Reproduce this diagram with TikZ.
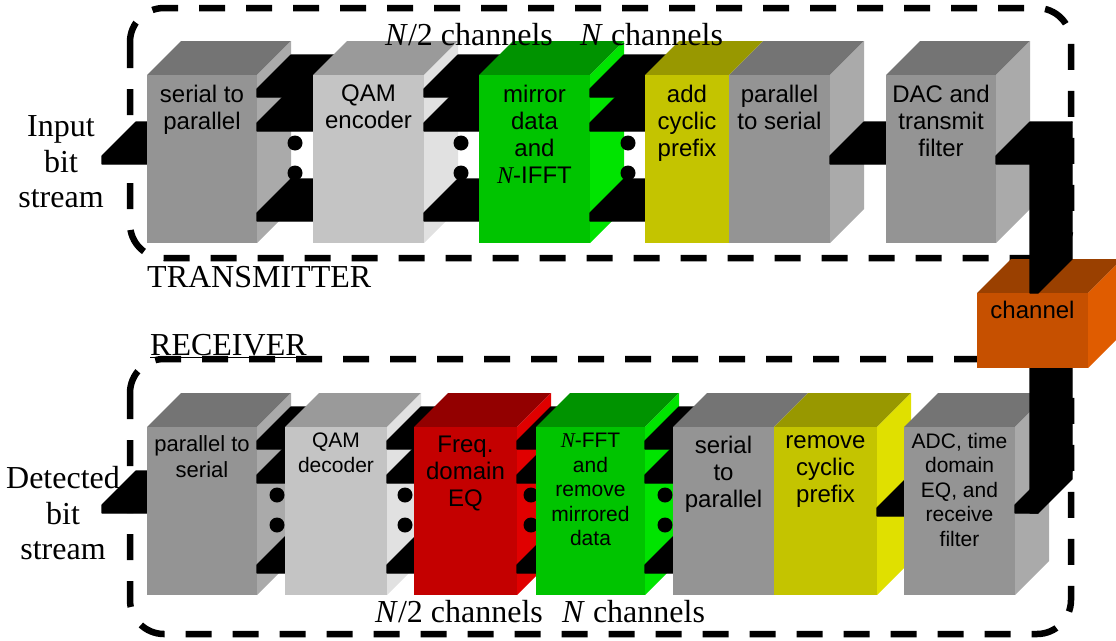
\documentclass[tikz,border=0pt]{standalone}
\usepackage{fontspec}
\setmainfont{Liberation Serif}
\newfontfamily\boxfont{Liberation Sans}
\usetikzlibrary{calc}
\definecolor{ofgrayf}{HTML}{949494}
\definecolor{ofgrayt}{HTML}{747474}
\definecolor{ofgrays}{HTML}{AAAAAA}
\definecolor{ofpalef}{HTML}{C4C4C4}
\definecolor{ofpalet}{HTML}{9A9A9A}
\definecolor{ofpales}{HTML}{E1E1E1}
\definecolor{ofgreenf}{HTML}{00C400}
\definecolor{ofgreent}{HTML}{009300}
\definecolor{ofgreens}{HTML}{00E400}
\definecolor{ofyellowf}{HTML}{C4C400}
\definecolor{ofyellowt}{HTML}{989800}
\definecolor{ofyellows}{HTML}{E0E000}
\definecolor{ofredf}{HTML}{C40000}
\definecolor{ofredt}{HTML}{930000}
\definecolor{ofreds}{HTML}{E00000}
\definecolor{oforangef}{HTML}{C65000}
\definecolor{oforanget}{HTML}{9A4000}
\definecolor{oforanges}{HTML}{E05C00}

% depth of the oblique view
\def\ofs{34}
% front, top and side faces of a block, then its text
\newcommand{\blkface}[6]{%
  \fill[#3] (#1.north west) -- ++(\ofs,-\ofs) -- ($(#1.north east)+(\ofs,-\ofs)$) -- (#1.north east) -- cycle;
  \fill[#4] (#1.north east) -- ++(\ofs,-\ofs) -- ($(#1.south east)+(\ofs,-\ofs)$) -- (#1.south east) -- cycle;
  \fill[#2] (#1.north west) rectangle (#1.south east);
  \node[#5] (#1t) at (#1.north) {#6};}
% flat bus from a start point into block #2, #3 below its top
\newcommand{\busbar}[3]{%
  \filldraw[bus] ($(#1)+(0,8)$) -- (#1) -- ++(\ofs,-\ofs) -- ($(#2.north west)+(\ofs,#3-\ofs)$) -- ++(0,\ofs+8) -- cycle;}
% parallel buses and dots between two blocks
\newcommand{\buslinks}[3]{%
  \foreach \d in {14,48,138}{%
    \coordinate (bs) at ($(#1.north east)+(0,\d)$);
    \busbar{bs}{#2}{\d}}
  \foreach \d in {68,98}{\fill ($(#2.north west)+(#3,\d)$) circle (7.5pt);}}

\begin{document}
\begin{tikzpicture}[x=1pt,y=-1pt,
  blk/.style={anchor=north west,minimum height=168pt,inner sep=0pt,outer sep=0pt},
  bus/.style={fill=black,draw=black,line width=1.2pt,line join=round},
  dashframe/.style={line width=6.5pt,dash pattern=on 26pt off 21pt,rounded corners=34pt},
  lbl/.style={font=\fontsize{32}{35.5}\selectfont,align=center,inner sep=0pt},
  txbig/.style={font=\boxfont\fontsize{24}{27}\selectfont,align=center,inner sep=0pt,anchor=north,
    yshift=-9.5pt,execute at begin node={\rule{0pt}{17.3pt}}},
  rxbig/.style={txbig,yshift=1pt},
  rxsmall/.style={font=\boxfont\fontsize{21}{24.5}\selectfont,align=center,inner sep=0pt,anchor=north,
    yshift=-6pt,execute at begin node={\rule{0pt}{15.1pt}}}]
\useasboundingbox (0,0) rectangle (1116,640);

% block front faces
\node[blk,minimum width=110pt] (s2p) at (147,75) {};
\node[blk,minimum width=111pt] (qamenc) at (313,75) {};
\node[blk,minimum width=111pt] (ifft) at (479,75) {};
\node[blk,minimum width=84pt] (addcp) at (645,75) {};
\node[blk,minimum width=101pt] (p2s) at (729,75) {};
\node[blk,minimum width=110pt] (dac) at (886,75) {};
\node[blk,minimum width=111pt,minimum height=75pt] (chan) at (977,293) {};
\node[blk,minimum width=110pt] (rxp2s) at (147,427) {};
\node[blk,minimum width=102pt] (qamdec) at (285,427) {};
\node[blk,minimum width=103pt] (feq) at (414,427) {};
\node[blk,minimum width=109pt] (fft) at (536,427) {};
\node[blk,minimum width=101pt] (rxs2p) at (673,427) {};
\node[blk,minimum width=103pt] (rmcp) at (774,427) {};
\node[blk,minimum width=111pt] (adc) at (904,427) {};

% dashed frames
\draw[dashframe] (130,8) rectangle (1071,258);
\draw[dashframe] (130,359) rectangle (1071,634);

% transmitter
\coordinate (inb) at ($(s2p.north west)+(-45,81)$);
\busbar{inb}{s2p}{81}
\blkface{s2p}{ofgrayf}{ofgrayt}{ofgrays}{txbig}{serial to\\parallel}
\buslinks{s2p}{qamenc}{-18}
\blkface{qamenc}{ofpalef}{ofpalet}{ofpales}{txbig}{QAM\\encoder}
\buslinks{qamenc}{ifft}{-18}
\blkface{ifft}{ofgreenf}{ofgreent}{ofgreens}{txbig}{mirror\\data\\and\\{\rmfamily\itshape N}-IFFT}
\buslinks{ifft}{addcp}{-17}
\blkface{addcp}{ofyellowf}{ofyellowt}{ofyellows}{txbig}{add\\cyclic\\prefix}
\blkface{p2s}{ofgrayf}{ofgrayt}{ofgrays}{txbig}{parallel\\to serial}
\coordinate (bs) at ($(p2s.north east)+(0,81)$);
\busbar{bs}{dac}{81}
\blkface{dac}{ofgrayf}{ofgrayt}{ofgrays}{txbig}{DAC and\\transmit\\filter}

% receiver
\coordinate (outb) at ($(rxp2s.north west)+(-45,78)$);
\busbar{outb}{rxp2s}{78}
\blkface{rxp2s}{ofgrayf}{ofgrayt}{ofgrays}{rxbig,font=\boxfont\fontsize{22}{26}\selectfont}{parallel to\\serial}
\buslinks{rxp2s}{qamdec}{-8}
\blkface{qamdec}{ofpalef}{ofpalet}{ofpales}{rxsmall}{QAM\\decoder}
\buslinks{qamdec}{feq}{-9}
\blkface{feq}{ofredf}{ofredt}{ofreds}{rxbig}{Freq.\\domain\\EQ}
\buslinks{feq}{fft}{-5}
\blkface{fft}{ofgreenf}{ofgreent}{ofgreens}{rxsmall}{{\rmfamily\itshape N}-FFT\\and\\remove\\mirrored\\data}
\buslinks{fft}{rxs2p}{-8}
\blkface{rxs2p}{ofgrayf}{ofgrayt}{ofgrays}{rxbig}{serial\\to\\parallel}
\blkface{rmcp}{ofyellowf}{ofyellowt}{ofyellows}{rxbig}{remove\\cyclic\\prefix}
\coordinate (bs) at ($(rmcp.north east)+(0,81)$);
\busbar{bs}{adc}{81}
\blkface{adc}{ofgrayf}{ofgrayt}{ofgrays}{rxsmall}{ADC, time\\domain\\EQ, and\\receive\\filter}

% channel and the buses through it
\coordinate (cT) at ($(chan.north)+(-2.5,0)$);
\coordinate (cB) at ($(chan.south)+(-2.5,0)$);
\coordinate (o) at ($(dac.north east)+(0,81)$);
\coordinate (i) at ($(adc.north east)+(0,78)$);
\filldraw[bus] ($(i)+(0,8)$) -- (i) -- ++(\ofs,-\ofs) -- ($(i -| cT)+(42,-\ofs)$) -- ($(i -| cT)+(8,0)$) -- ++(0,8) -- cycle;
\filldraw[bus] (cB) -- ++(42,-\ofs) -- ($(i -| cT)+(42,8-\ofs)$) -- ($(i -| cT)+(8,8)$) -- ($(i -| cT)+(0,8)$) -- cycle;
\blkface{chan}{oforangef}{oforanget}{oforanges}{txbig,yshift=1.8pt}{channel}
\filldraw[bus] ($(o)+(0,8)$) -- (o) -- ++(\ofs,-\ofs) -- ($(o -| cT)+(42,-\ofs)$) -- ($(o -| cT)+(8,0)$) -- ++(0,8) -- cycle;
\filldraw[bus] (o -| cT) -- ++(8,0) -- ++(\ofs,-\ofs) -- ($(cT)+(42,-\ofs)$) -- ($(cT)+(8,0)$) -- (cT) -- cycle;

% labels
\node[lbl] (inlbl) at (61,162) {Input\\bit\\stream};
\node[lbl] (detlbl) at (63,513.5) {Detected\\bit\\stream};
\node[lbl,anchor=base west] (txlbl) at (147,287) {TRANSMITTER};
\node[lbl,anchor=base west] (rxlbl) at (150,355) {\underline{RECEIVER}};
\node[lbl,anchor=base west] (txhalf) at (385,45) {\textit{N}/2 channels};
\node[lbl,anchor=base west] (txfull) at (580,45) {\textit{N} channels};
\node[lbl,anchor=base west] (rxhalf) at (375,622) {\textit{N}/2 channels};
\node[lbl,anchor=base west] (rxfull) at (562,622) {\textit{N} channels};
\end{tikzpicture}
\end{document}
